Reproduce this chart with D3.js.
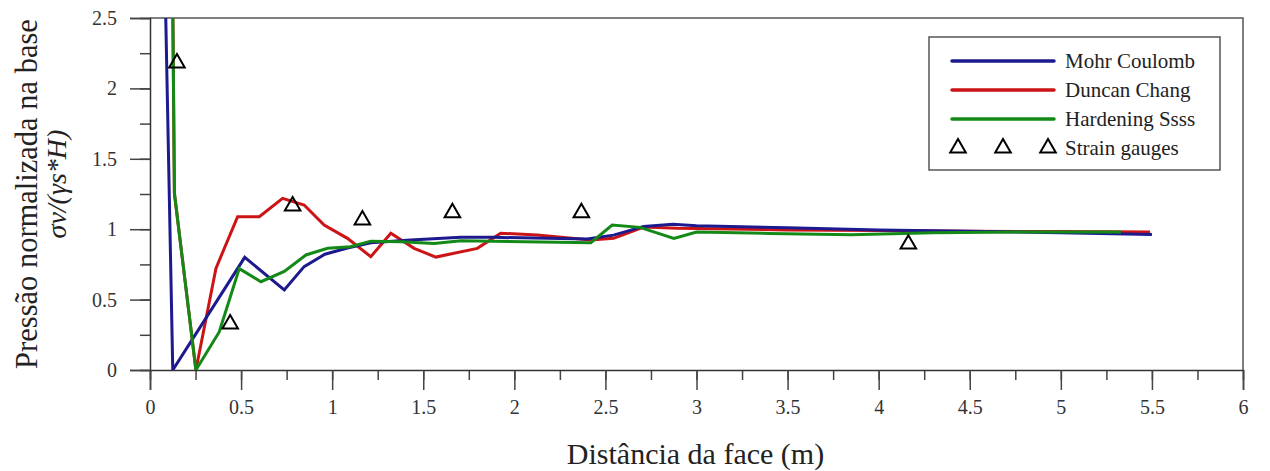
<!DOCTYPE html>
<html>
<head>
<meta charset="utf-8">
<script src="https://cdn.jsdelivr.net/npm/d3@7"></script>
<style>
  body { margin: 0; background: #fff; }
</style>
</head>
<body>
<div id="chart"></div>
<script>
// data
const mohrX = [0.085, 0.125, 0.52, 0.737, 0.846, 0.96, 1.084, 1.212, 1.43, 1.706, 1.89, 2.40, 2.545, 2.71, 2.87, 3.0, 3.5, 4.0, 4.5, 5.0, 5.5];
const mohrY = [2.6, 0.0, 0.80, 0.568, 0.734, 0.822, 0.866, 0.903, 0.923, 0.942, 0.942, 0.93, 0.958, 1.02, 1.035, 1.025, 1.01, 0.995, 0.985, 0.975, 0.962];

const duncanX = [0.125, 0.134, 0.252, 0.362, 0.481, 0.60, 0.728, 0.846, 0.956, 1.084, 1.212, 1.322, 1.45, 1.569, 1.797, 1.925, 2.126, 2.42, 2.545, 2.71, 2.894, 3.5, 4.0, 4.5, 5.0, 5.49];
const duncanY = [2.6, 1.255, 0.0, 0.722, 1.089, 1.089, 1.219, 1.172, 1.03, 0.935, 0.805, 0.971, 0.864, 0.802, 0.864, 0.971, 0.959, 0.923, 0.935, 1.015, 1.006, 0.995, 0.99, 0.985, 0.983, 0.98];

const hardX = [0.125, 0.134, 0.252, 0.38, 0.49, 0.609, 0.737, 0.856, 0.975, 1.10, 1.212, 1.377, 1.56, 1.706, 2.42, 2.537, 2.69, 2.876, 3.0, 3.4, 3.85, 4.3, 4.8, 5.33];
const hardY = [2.6, 1.255, 0.0, 0.27, 0.72, 0.627, 0.70, 0.817, 0.864, 0.876, 0.915, 0.911, 0.899, 0.918, 0.904, 1.03, 1.013, 0.935, 0.98, 0.97, 0.96, 0.975, 0.98, 0.98];

const gaugeX = [0.148, 0.44, 0.783, 1.166, 1.66, 2.368, 4.163];
const gaugeY = [2.18, 0.327, 1.165, 1.065, 1.117, 1.117, 0.894];

const seriesNames = ["Mohr Coulomb", "Duncan Chang", "Hardening Ssss"];
const seriesColors = ["#1c1a8e", "#cc1417", "#138a17"];
const gaugeLabel = "Strain gauges";

const xMajor = [0, 0.5, 1, 1.5, 2, 2.5, 3, 3.5, 4, 4.5, 5, 5.5, 6];
const yMajor = [0, 0.5, 1, 1.5, 2, 2.5];

const FONT = "Liberation Serif";
const W = 1270, H = 471;
const margin = {top: 18, right: 27, bottom: 101, left: 150};
const iw = W - margin.left - margin.right;
const ih = H - margin.top - margin.bottom;

const svg = d3.select("#chart").append("svg").attr("width", W).attr("height", H);
const g = svg.append("g").attr("transform", `translate(${margin.left},${margin.top})`);

const x = d3.scaleLinear().domain([0, 6]).range([0, iw]);
const y = d3.scaleLinear().domain([0, 2.5]).range([ih, 0]);

// frame (top and right)
g.append("path")
  .attr("d", `M0,0H${iw}V${ih}`)
  .attr("fill", "none").attr("stroke", "#555").attr("stroke-width", 1.5);

// minor ticks
g.append("g").attr("transform", `translate(0,${ih})`)
  .call(d3.axisBottom(x).tickValues(d3.range(0, 6.01, 0.25)).tickSize(10).tickFormat(""))
  .call(a => a.select(".domain").remove());
g.append("g")
  .call(d3.axisLeft(y).tickValues(d3.range(0, 2.51, 0.25)).tickSize(10).tickFormat(""))
  .call(a => a.select(".domain").remove());

// major ticks + labels
const xAxis = g.append("g").attr("transform", `translate(0,${ih})`)
  .call(d3.axisBottom(x).tickValues(xMajor).tickSize(20).tickPadding(10).tickFormat(d3.format("")));
const yAxis = g.append("g")
  .call(d3.axisLeft(y).tickValues(yMajor).tickSize(20).tickPadding(13).tickFormat(d3.format("")));

[xAxis, yAxis].forEach(a => {
  a.attr("font-family", FONT);
  a.selectAll("text").style("font-family", FONT).attr("font-size", 20).attr("fill", "#333");
  a.select(".domain").attr("stroke", "#333").attr("stroke-width", 1.5);
});
g.selectAll(".tick line").attr("stroke", "#444").attr("stroke-width", 1.5);

// clip
svg.append("defs").append("clipPath").attr("id", "clip")
  .append("rect").attr("width", iw).attr("height", ih);

const line = d3.line().x(d => x(d[0])).y(d => y(d[1]));
const plot = g.append("g").attr("clip-path", "url(#clip)");

const seriesData = [
  d3.zip(mohrX, mohrY),
  d3.zip(duncanX, duncanY),
  d3.zip(hardX, hardY)
];
[1, 0, 2].forEach(i => {
  plot.append("path")
    .datum(seriesData[i])
    .attr("fill", "none")
    .attr("stroke", seriesColors[i])
    .attr("stroke-width", 3)
    .attr("d", line);
});

// strain gauges
const tri = d3.symbol().type(d3.symbolTriangle).size(105);
g.append("g").selectAll("path")
  .data(d3.zip(gaugeX, gaugeY))
  .join("path")
  .attr("transform", d => `translate(${x(d[0])},${y(d[1])})`)
  .attr("d", tri)
  .attr("fill", "none")
  .attr("stroke", "#000")
  .attr("stroke-width", 2);

// axis titles
svg.append("text")
  .attr("x", margin.left + iw / 2 - 1).attr("y", 464)
  .attr("text-anchor", "middle")
  .style("font-family", FONT)
  .attr("font-size", 30).attr("fill", "#222")
  .text("Distância da face (m)");

const yt = svg.append("text")
  .attr("transform", `translate(37,${margin.top + ih / 2}) rotate(-90)`)
  .attr("text-anchor", "middle")
  .style("font-family", FONT)
  .attr("font-size", 30.5).attr("fill", "#222");
yt.append("tspan").attr("x", 0).attr("dy", 0).text("Pressão normalizada na base");
yt.append("tspan").attr("x", 10).attr("dy", 29).attr("font-size", 28).attr("font-style", "italic").text("σv/(γs*H)");

// legend
const lg = svg.append("g");
lg.append("rect")
  .attr("x", 929).attr("y", 37).attr("width", 291).attr("height", 133)
  .attr("fill", "#fff").attr("stroke", "#555").attr("stroke-width", 1.5);

const rowY = [61, 90, 119, 148];
seriesNames.forEach((name, i) => {
  lg.append("line")
    .attr("x1", 952).attr("x2", 1054).attr("y1", rowY[i]).attr("y2", rowY[i])
    .attr("stroke", seriesColors[i]).attr("stroke-width", 3.5).attr("stroke-linecap", "round");
  lg.append("text")
    .attr("x", 1065).attr("y", rowY[i]).attr("dy", "0.35em")
    .style("font-family", FONT)
    .attr("font-size", 21).attr("fill", "#222").text(name);
});
[958, 1003, 1048].forEach(px => {
  lg.append("path")
    .attr("transform", `translate(${px},${rowY[3]})`)
    .attr("d", tri)
    .attr("fill", "none").attr("stroke", "#000").attr("stroke-width", 2);
});
lg.append("text")
  .attr("x", 1065).attr("y", rowY[3]).attr("dy", "0.35em")
  .style("font-family", FONT)
  .attr("font-size", 21).attr("fill", "#222").text(gaugeLabel);
</script>
</body>
</html>
